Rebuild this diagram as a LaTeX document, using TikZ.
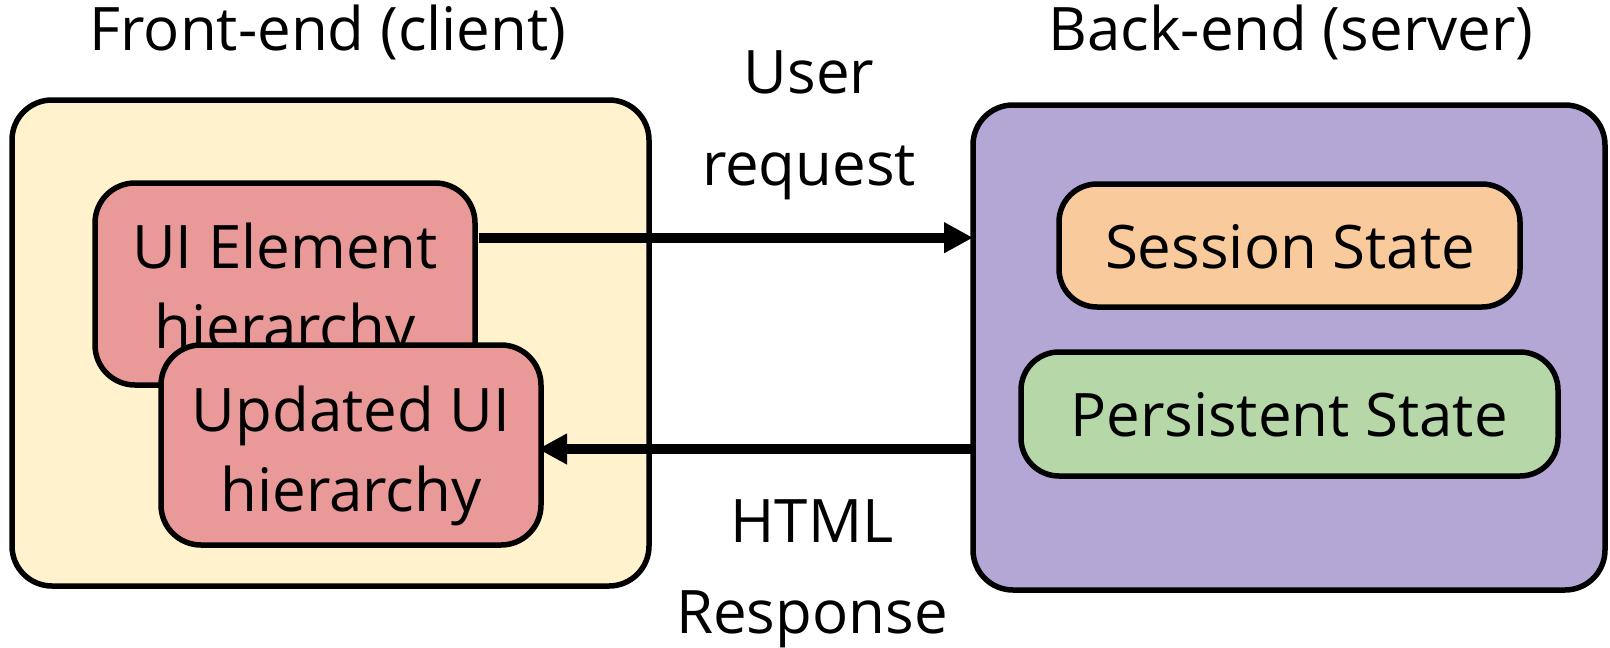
\documentclass[tikz,border=0pt]{standalone}
\usepackage{fontspec}
\setmainfont{Open Sans}
\usetikzlibrary{arrows.meta}
\definecolor{frontc}{HTML}{FFF2CC}
\definecolor{uic}{HTML}{EA9999}
\definecolor{backc}{HTML}{B4A7D6}
\definecolor{sessc}{HTML}{F9CB9C}
\definecolor{persc}{HTML}{B6D7A8}
\begin{document}
\begin{tikzpicture}[x=1pt,y=-1pt,
  box/.style={draw=black,line width=5.5pt,rounded corners=40pt,anchor=north west,inner sep=0pt,outer sep=0pt},
  sbox/.style={box,rounded corners=38pt},
  txt/.style={anchor=base,inner sep=0pt,outer sep=0pt,font=\fontsize{60}{72}\selectfont},
  arr/.style={line width=10pt,-{Triangle[length=29pt,width=29pt]}}]
\useasboundingbox (0,0) rectangle (1610,648);
\node[box,fill=frontc,minimum width=637pt,minimum height=486pt] (front) at (12,100) {};
\node[txt] (fronttitle) at (328,50) {Front-end (client)};
\node[box,fill=uic,minimum width=380pt,minimum height=202pt] (ui) at (95,183) {};
\node[txt] (ui1) at (285,268) {UI Element};
\node[txt] (ui2) at (285,348) {hierarchy};
\node[box,fill=uic,minimum width=380pt,minimum height=200pt] (upd) at (161,345) {};
\node[txt] (upd1) at (351,431) {Updated UI};
\node[txt] (upd2) at (351,511) {hierarchy};
\node[box,fill=backc,minimum width=632pt,minimum height=485pt] (back) at (973,105) {};
\node[txt] (backtitle) at (1291,50) {Back-end (server)};
\node[sbox,fill=sessc,minimum width=461pt,minimum height=123pt] (sess) at (1059,184) {};
\node[txt] (sesst) at (1290,268) {Session State};
\node[sbox,fill=persc,minimum width=537pt,minimum height=124pt] (pers) at (1021,352) {};
\node[txt] (perst) at (1289,436) {Persistent State};
\node[txt] (req1) at (809,93) {User};
\node[txt] (req2) at (809,185) {request};
\node[txt] (resp1) at (812,542) {HTML};
\node[txt] (resp2) at (812,633) {Response};
\draw[arr,shorten <=4pt] (ui.east |- 0,237.7) -- (back.west |- 0,237.7);
\draw[arr,shorten >=-3pt] (back.west |- 0,449) -- (upd.east |- 0,449);
\end{tikzpicture}
\end{document}
